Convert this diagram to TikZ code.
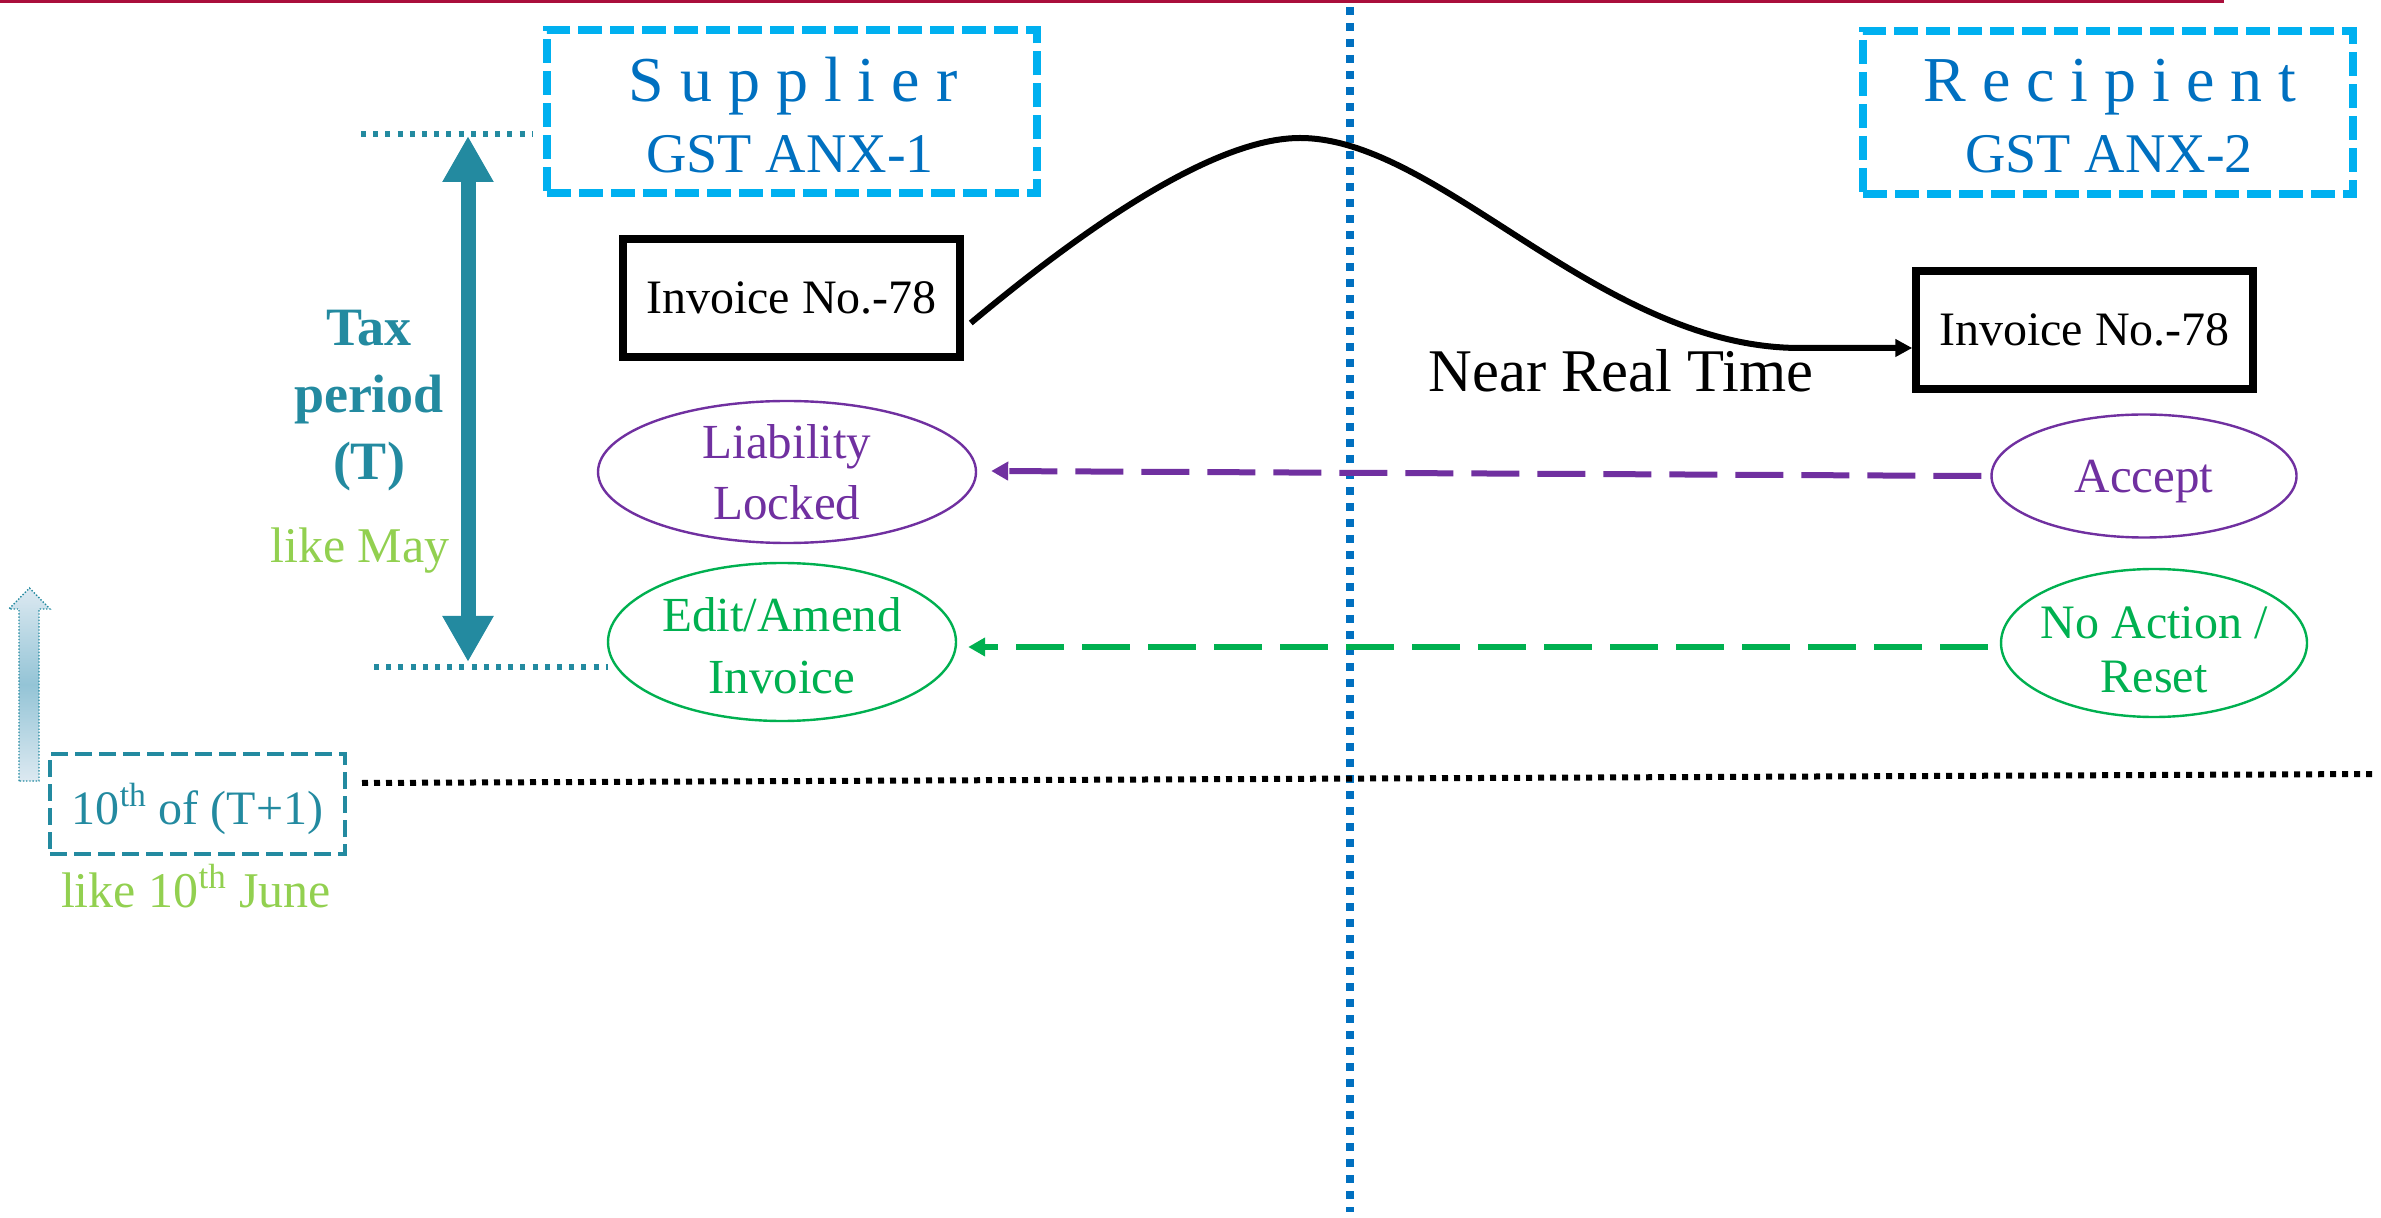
\documentclass[tikz,border=0pt]{standalone}
\usepackage{fontspec}
\setmainfont{Liberation Serif}
\usetikzlibrary{arrows.meta,shapes.geometric}
\definecolor{topred}{RGB}{170,15,60}
\definecolor{gstcyan}{RGB}{0,176,240}
\definecolor{gstblue}{RGB}{0,112,192}
\definecolor{taxteal}{RGB}{35,138,160}
\definecolor{limegreen}{RGB}{146,208,80}
\definecolor{actgreen}{RGB}{0,176,80}
\definecolor{actpurple}{RGB}{112,48,160}
\definecolor{arrowlight}{RGB}{220,233,241}
\definecolor{arrowmid}{RGB}{148,196,214}
\newcommand{\fsz}[2]{\fontsize{#1}{#2}\selectfont}
\begin{document}
\begin{tikzpicture}[x=0.5pt,y=-0.5pt,
  gstbox/.style={draw=gstcyan, line width=4pt, dash pattern=on 12pt off 4pt,
    minimum width=245pt, minimum height=81.5pt, inner sep=0pt},
  gsttitle/.style={anchor=base, text=gstblue, inner sep=0pt, font=\fsz{32}{38}},
  gstform/.style={anchor=base, text=gstblue, inner sep=0pt, font=\fsz{28}{34}},
  invbox/.style={draw=black, line width=3.75pt, minimum width=168.5pt,
    minimum height=59pt, inner sep=0pt, text depth=0pt, font=\fsz{24}{29}},
  ovalnode/.style={ellipse, line width=1.2pt, inner xsep=-8pt, inner ysep=0pt,
    align=center},
  backarrow/.style={line width=3pt, dash pattern=on 24pt off 9pt,
    -{Triangle[length=8.5pt,width=9pt]}},
  tealdots/.style={draw=taxteal, line width=3pt, dash pattern=on 2.5pt off 3.6pt},
  flow/.style={draw=black, line width=3pt, -{Triangle[length=8.5pt,width=8.5pt]}},
  limetext/.style={anchor=base, text=limegreen, inner sep=0pt, font=\fsz{25}{30}}
]
\useasboundingbox (0,0) rectangle (2381,1218);

% top rule and grid lines
\draw[topred, line width=1.6pt] (0,1.6) -- (2224,1.6);
\draw[gstblue, line width=4pt, dash pattern=on 4pt off 4pt] (1350,7) -- (1350,1212);
\draw[black, line width=3pt, dash pattern=on 3pt off 3pt] (362,783) -- (2375,774);

% header boxes
\node[gstbox] (supbox) at (792,112) {};
\node[gsttitle] (suptitle) at (793,102) {S\kern8pt u\kern8pt p\kern8pt p\kern8pt l\kern8pt i\kern8pt e\kern8pt r};
\node[gstform] (supform) at (790,173) {GST ANX-1};
\node[gstbox] (recbox) at (2108,112.5) {};
\node[gsttitle] (rectitle) at (2110,102) {R\kern8pt e\kern8pt c\kern8pt i\kern8pt p\kern8pt i\kern8pt e\kern8pt n\kern8pt t};
\node[gstform] (recform) at (2109,173) {GST ANX-2};

% invoices
\node[invbox] (inv1) at (791.5,298) {Invoice No.-78};
\node[invbox] (inv2) at (2084.5,330) {Invoice No.-78};
\draw[flow] ([shift={(7,25)}]inv1.east) .. controls (1100,215) and (1220,138) .. (1300,138)
  .. controls (1440,138) and (1600,348) .. (1800,348) -- ([shift={(0,18)}]inv2.west);
\node[anchor=base, inner sep=0pt, font=\fsz{30.3}{36}] (nrt) at (1621,392) {Near Real Time};

% ellipses
\node[ovalnode, draw=actpurple, text=actpurple, minimum width=189pt, minimum height=71pt,
  font=\fsz{24.5}{30.5}] (liab) at (787,472) {Liability\\Locked};
\node[ovalnode, draw=actgreen, text=actgreen, minimum width=174pt, minimum height=79pt,
  font=\fsz{24.5}{31}] (edit) at (782,642) {\rule{0pt}{20.5pt}Edit/Amend\\Invoice};
\node[ovalnode, draw=actpurple, text=actpurple, minimum width=152.5pt, minimum height=61.5pt,
  text depth=0pt, font=\fsz{24.5}{30}] (accept) at (2144,476) {Accept};
\node[ovalnode, draw=actgreen, text=actgreen, minimum width=153pt, minimum height=74pt,
  font=\fsz{24}{27}] (noact) at (2154,643) {\rule{0pt}{22.5pt}No Action /\\Reset};

\draw[backarrow, actpurple] ([shift={(-9,0)}]accept.west) -- ([shift={(14,-1)}]liab.east);
\draw[backarrow, actgreen] ([shift={(-12,4)}]noact.west) -- ([shift={(11,5)}]edit.east);

% tax period
\coordinate (ttop) at (468,136);
\coordinate (tbot) at (468,662);
\coordinate (dotTopL) at (361,134);
\coordinate (dotTopR) at (533,134);
\coordinate (dotBotL) at (374,667);
\coordinate (dotBotR) at (608,667);
\draw[tealdots] (dotTopL) -- (dotTopR);
\draw[tealdots] (dotBotL) -- (dotBotR);
\draw[taxteal, line width=7.5pt, {Triangle[length=23pt,width=24pt]}-{Triangle[length=23pt,width=24pt]}] (ttop) -- (tbot);
\node[align=center, text=taxteal, inner sep=0pt, font=\bfseries\fsz{27}{33.5}] (taxlbl) at (369,401) {Tax\\period\\(T)};
\node[limetext] (likemay) at (360,563) {like May};

% deadline
\draw[taxteal, line width=0.7pt, dash pattern=on 0.7pt off 0.9pt,
  top color=arrowlight, bottom color=arrowlight, middle color=arrowmid]
  (19,781) -- (19,609) -- (9,609) -- (29.5,588) -- (50,609) -- (39,609) -- (39,781) -- cycle;
\node[draw=taxteal, line width=2pt, dash pattern=on 8.5pt off 3.5pt, minimum width=147.5pt,
  minimum height=50pt, inner sep=0pt, text depth=0pt, text=taxteal, font=\fsz{24}{29}]
  (tenth) at (197.5,804) {10\textsuperscript{th} of (T+1)};
\node[limetext] (likejune) at (196,907) {like 10\textsuperscript{th} June};
\end{tikzpicture}
\end{document}
